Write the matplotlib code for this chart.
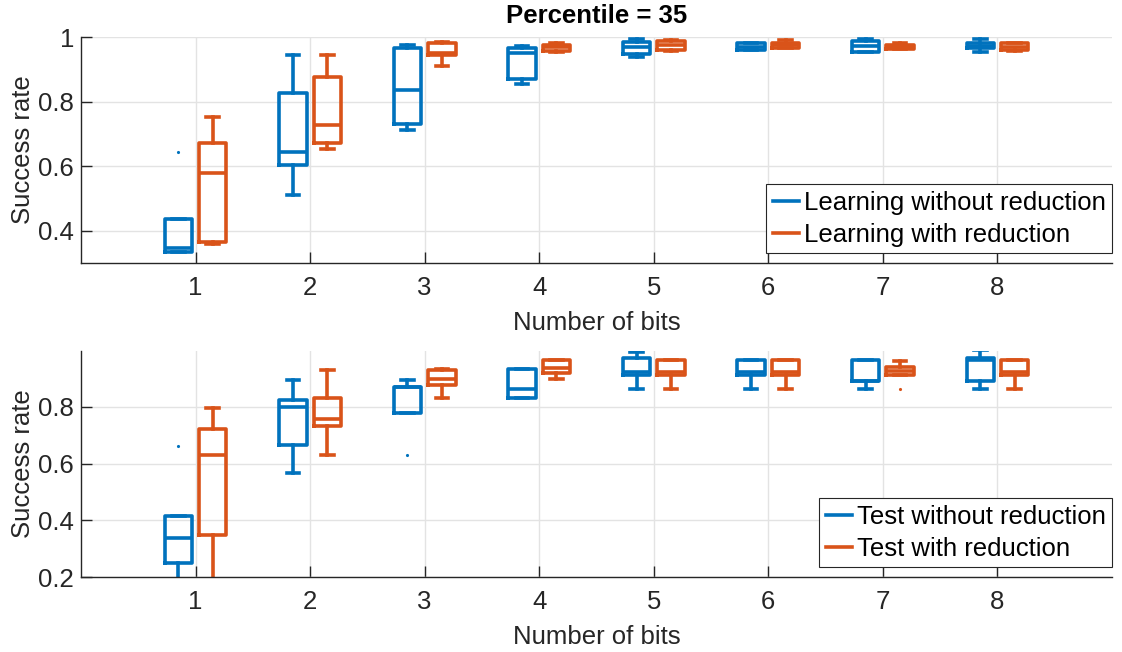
import matplotlib.pyplot as plt
from matplotlib.lines import Line2D
from matplotlib.ticker import FuncFormatter

plt.rcParams['font.family'] = ['Liberation Sans', 'DejaVu Sans']

# Data (box statistics per number of bits)
bits = [1, 2, 3, 4, 5, 6, 7, 8]

# Top panel: learning set
learn_no_whi = [0.435, 0.944, 0.975, 0.972, 0.994, 0.980, 0.995, 0.995]
learn_no_q3 = [0.435, 0.826, 0.965, 0.965, 0.985, 0.980, 0.988, 0.982]
learn_no_med = [0.345, 0.643, 0.836, 0.950, 0.970, 0.970, 0.972, 0.972]
learn_no_q1 = [0.335, 0.604, 0.730, 0.870, 0.947, 0.960, 0.955, 0.965]
learn_no_wlo = [0.335, 0.511, 0.712, 0.854, 0.937, 0.960, 0.953, 0.953]
learn_no_fliers = [[0.645], [], [], [], [], [], [], []]

learn_red_whi = [0.751, 0.944, 0.985, 0.980, 0.991, 0.990, 0.981, 0.982]
learn_red_q3 = [0.671, 0.877, 0.980, 0.975, 0.988, 0.982, 0.975, 0.980]
learn_red_med = [0.578, 0.728, 0.950, 0.968, 0.975, 0.975, 0.970, 0.970]
learn_red_q1 = [0.366, 0.671, 0.944, 0.958, 0.960, 0.965, 0.963, 0.960]
learn_red_wlo = [0.358, 0.653, 0.911, 0.955, 0.958, 0.965, 0.963, 0.958]
learn_red_fliers = [[], [], [], [], [], [], [], []]

# Bottom panel: test set
test_no_whi = [0.415, 0.895, 0.895, 0.932, 0.994, 0.965, 0.965, 0.999]
test_no_q3 = [0.415, 0.823, 0.871, 0.932, 0.971, 0.965, 0.965, 0.973]
test_no_med = [0.336, 0.800, 0.871, 0.862, 0.923, 0.923, 0.891, 0.965]
test_no_q1 = [0.248, 0.666, 0.778, 0.830, 0.911, 0.911, 0.891, 0.891]
test_no_wlo = [0.150, 0.566, 0.778, 0.830, 0.864, 0.864, 0.864, 0.864]
test_no_fliers = [[0.663], [], [0.632], [], [], [], [], []]

test_red_whi = [0.797, 0.929, 0.932, 0.965, 0.965, 0.965, 0.961, 0.965]
test_red_q3 = [0.722, 0.831, 0.930, 0.965, 0.965, 0.965, 0.941, 0.965]
test_red_med = [0.632, 0.759, 0.897, 0.936, 0.923, 0.923, 0.926, 0.923]
test_red_q1 = [0.347, 0.731, 0.877, 0.918, 0.911, 0.911, 0.911, 0.911]
test_red_wlo = [0.100, 0.632, 0.831, 0.897, 0.864, 0.864, 0.911, 0.864]
test_red_fliers = [[], [], [], [], [], [], [0.864], []]

BLUE = '#0072BD'
ORANGE = '#D95319'
TXT = '#262626'
FS = 18.5


def make_stats(wlo, q1, med, q3, whi, fliers):
    return [dict(whislo=a, q1=b, med=c, q3=d, whishi=e, fliers=f)
            for a, b, c, d, e, f in zip(wlo, q1, med, q3, whi, fliers)]


def draw_boxes(ax, stats, offset, color):
    lp = dict(color=color, linewidth=2.6)
    ax.bxp(stats, positions=[b + offset for b in bits], widths=0.24,
           capwidths=0.11, manage_ticks=False,
           boxprops=lp, medianprops=lp, whiskerprops=lp, capprops=lp,
           flierprops=dict(marker='.', markersize=2.5, markerfacecolor=color,
                           markeredgecolor=color, linestyle='none'))


def style_axes(ax, ylim, yticks):
    ax.set_xlim(0, 9)
    ax.set_ylim(*ylim)
    ax.set_xticks(bits)
    ax.set_yticks(yticks)
    ax.yaxis.set_major_formatter(FuncFormatter(lambda v, p: f'{v:g}'))
    ax.grid(True, color='#e3e3e3', linewidth=1)
    ax.set_axisbelow(True)
    for s in ['top', 'right']:
        ax.spines[s].set_visible(False)
    for s in ['left', 'bottom']:
        ax.spines[s].set_color(TXT)
        ax.spines[s].set_linewidth(1)
    ax.tick_params(direction='in', length=8, width=1, colors=TXT,
                   labelsize=FS, labelcolor=TXT)
    ax.tick_params(axis='x', pad=9)
    ax.tick_params(axis='y', pad=5)
    ax.set_xlabel('Number of bits', fontsize=FS, color=TXT, labelpad=8)
    ax.set_ylabel('Success rate', fontsize=FS, color=TXT, labelpad=2)


fig = plt.figure(figsize=(11.22, 6.52), dpi=100)
ax1 = fig.add_axes([0.0722, 0.5966, 0.9189, 0.3466])
ax2 = fig.add_axes([0.0722, 0.1150, 0.9189, 0.3466])

# Top panel
draw_boxes(ax1, make_stats(learn_no_wlo, learn_no_q1, learn_no_med, learn_no_q3,
                           learn_no_whi, learn_no_fliers), -0.15, BLUE)
draw_boxes(ax1, make_stats(learn_red_wlo, learn_red_q1, learn_red_med, learn_red_q3,
                           learn_red_whi, learn_red_fliers), 0.15, ORANGE)
style_axes(ax1, (0.3, 1.0), [0.4, 0.6, 0.8, 1.0])
ax1.set_title('Percentile = 35', fontsize=18.5, fontweight='bold', pad=10)

# Bottom panel
draw_boxes(ax2, make_stats(test_no_wlo, test_no_q1, test_no_med, test_no_q3,
                           test_no_whi, test_no_fliers), -0.15, BLUE)
draw_boxes(ax2, make_stats(test_red_wlo, test_red_q1, test_red_med, test_red_q3,
                           test_red_whi, test_red_fliers), 0.15, ORANGE)
style_axes(ax2, (0.2, 0.997), [0.2, 0.4, 0.6, 0.8])

# Legends
for ax, labels in [(ax1, ['Learning without reduction', 'Learning with reduction']),
                   (ax2, ['Test without reduction', 'Test with reduction'])]:
    handles = [Line2D([], [], color=BLUE, linewidth=2.6),
               Line2D([], [], color=ORANGE, linewidth=2.6)]
    leg = ax.legend(handles, labels, loc='lower right', bbox_to_anchor=(1.0, 10 / 226),
                    borderaxespad=0, fontsize=FS, handlelength=1.0, handletextpad=0.2,
                    borderpad=0.25, labelspacing=0.3, fancybox=False, framealpha=1,
                    edgecolor=TXT)
    leg.get_frame().set_linewidth(0.8)

plt.savefig('out.png', dpi=100)
